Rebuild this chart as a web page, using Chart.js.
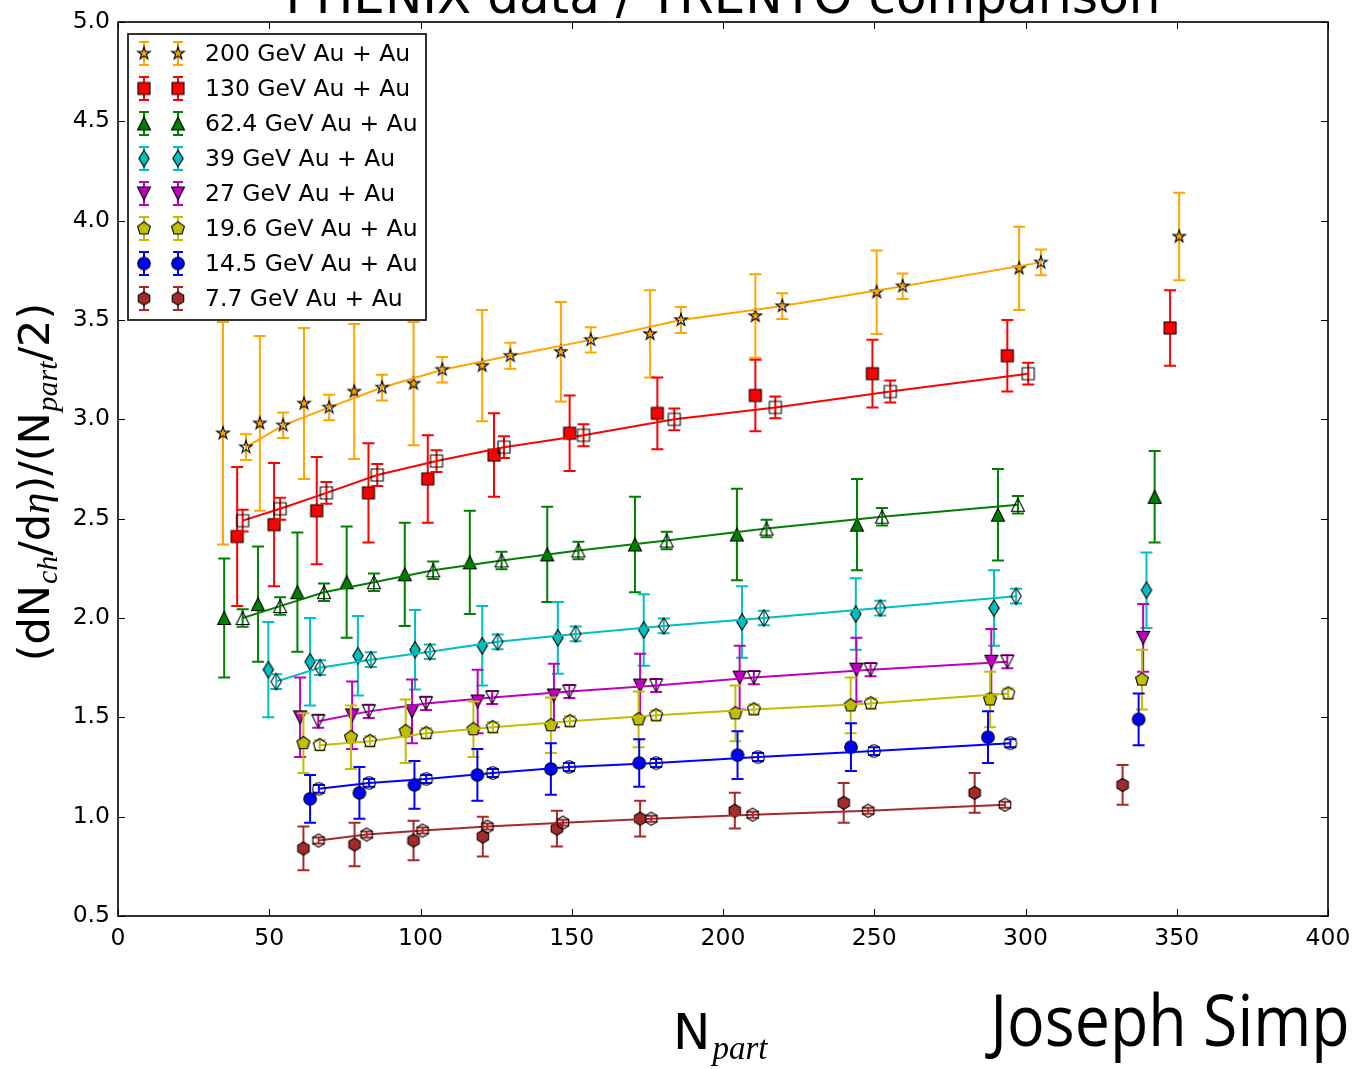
<!DOCTYPE html>
<html>
<head>
<meta charset="utf-8">
<script src="https://cdn.jsdelivr.net/npm/chart.js@4.4.0/dist/chart.umd.min.js"></script>
<style>
  html, body { margin: 0; padding: 0; background: #fff; }
  #wrap { width: 1355px; height: 1069px; position: relative; }
</style>
</head>
<body>
<div id="wrap"><canvas id="c" width="1355" height="1069"></canvas></div>
<script>
// ---- collision energies (legend order) ----
const energies = ['200 GeV Au + Au', '130 GeV Au + Au', '62.4 GeV Au + Au', '39 GeV Au + Au',
                  '27 GeV Au + Au', '19.6 GeV Au + Au', '14.5 GeV Au + Au', '7.7 GeV Au + Au'];

// ---- axis ticks ----
const xTicks = [0, 50, 100, 150, 200, 250, 300, 350, 400];
const yTicks = [0.5, 1.0, 1.5, 2.0, 2.5, 3.0, 3.5, 4.0, 4.5, 5.0];

// ---- PHENIX measurements: Npart, (dNch/deta)/(Npart/2), uncertainty ----
const phenix200_x = [34.7, 46.9, 61.5, 78.1, 97.7, 120.4, 146.4, 175.9, 210.7, 250.8, 297.9, 350.8];
const phenix200_y = [2.93, 2.98, 3.08, 3.14, 3.18, 3.27, 3.34, 3.43, 3.52, 3.64, 3.76, 3.92];
const phenix200_e = [0.56, 0.44, 0.38, 0.34, 0.31, 0.28, 0.25, 0.22, 0.21, 0.21, 0.21, 0.22];

const phenix130_x = [39.4, 51.6, 65.7, 82.8, 102.4, 124.3, 149.3, 178.3, 210.7, 249.4, 294.0, 347.8];
const phenix130_y = [2.41, 2.47, 2.54, 2.63, 2.70, 2.82, 2.93, 3.03, 3.12, 3.23, 3.32, 3.46];
const phenix130_e = [0.35, 0.31, 0.27, 0.25, 0.22, 0.21, 0.19, 0.18, 0.18, 0.17, 0.18, 0.19];

const phenix62_x = [35.1, 46.3, 59.3, 75.6, 94.8, 116.3, 141.9, 170.9, 204.6, 244.3, 290.9, 342.7];
const phenix62_y = [2.00, 2.07, 2.13, 2.18, 2.22, 2.28, 2.32, 2.37, 2.42, 2.47, 2.52, 2.61];
const phenix62_e = [0.30, 0.29, 0.30, 0.28, 0.26, 0.26, 0.24, 0.24, 0.23, 0.23, 0.23, 0.23];

const phenix39_x = [49.7, 63.5, 79.3, 98.2, 120.4, 145.4, 173.8, 206.3, 243.9, 289.6, 340.0];
const phenix39_y = [1.74, 1.78, 1.81, 1.84, 1.86, 1.90, 1.94, 1.98, 2.02, 2.05, 2.14];
const phenix39_e = [0.24, 0.22, 0.20, 0.20, 0.20, 0.18, 0.18, 0.18, 0.18, 0.19, 0.19];

const phenix27_x = [60.2, 77.4, 97.2, 118.9, 144.1, 172.6, 205.5, 244.1, 288.7, 338.9];
const phenix27_y = [1.50, 1.51, 1.53, 1.58, 1.61, 1.66, 1.70, 1.74, 1.78, 1.90];
const phenix27_e = [0.20, 0.17, 0.16, 0.16, 0.16, 0.16, 0.16, 0.16, 0.165, 0.17];

const phenix19_x = [61.3, 77.0, 95.1, 117.5, 143.1, 172.1, 204.1, 242.2, 288.3, 338.5];
const phenix19_y = [1.37, 1.40, 1.43, 1.44, 1.46, 1.49, 1.52, 1.56, 1.59, 1.69];
const phenix19_e = [0.15, 0.16, 0.16, 0.14, 0.14, 0.14, 0.14, 0.14, 0.14, 0.15];

const phenix14_x = [63.5, 79.8, 98.0, 118.8, 143.1, 172.3, 204.8, 242.3, 287.6, 337.4];
const phenix14_y = [1.09, 1.12, 1.16, 1.21, 1.24, 1.27, 1.31, 1.35, 1.40, 1.49];
const phenix14_e = [0.12, 0.13, 0.12, 0.13, 0.13, 0.12, 0.12, 0.12, 0.13, 0.13];

const phenix7_x = [61.3, 78.2, 97.7, 120.6, 145.1, 172.6, 203.9, 239.9, 283.2, 332.1];
const phenix7_y = [0.84, 0.86, 0.88, 0.90, 0.94, 0.99, 1.03, 1.07, 1.12, 1.16];
const phenix7_e = [0.11, 0.11, 0.10, 0.10, 0.09, 0.09, 0.09, 0.10, 0.10, 0.10];

// ---- TRENTO model curves ----
const trento200_x = [42.3, 54.6, 69.8, 87.3, 107.2, 129.7, 156.3, 186.1, 219.6, 259.4, 305.1];
const trento200_y = [2.86, 2.97, 3.06, 3.16, 3.25, 3.32, 3.40, 3.50, 3.57, 3.67, 3.79];
const trento200_e = [0.065, 0.064, 0.064, 0.065, 0.064, 0.065, 0.064, 0.065, 0.065, 0.064, 0.065];

const trento130_x = [41.2, 53.6, 68.9, 85.7, 105.3, 127.6, 153.9, 183.9, 217.3, 255.3, 300.9];
const trento130_y = [2.49, 2.55, 2.63, 2.72, 2.79, 2.86, 2.92, 3.00, 3.06, 3.14, 3.23];
const trento130_e = [0.055, 0.055, 0.055, 0.055, 0.055, 0.055, 0.055, 0.055, 0.055, 0.055, 0.055];

const trento62_x = [41.2, 53.6, 68.1, 84.6, 104.2, 126.8, 152.2, 181.4, 214.4, 252.6, 297.5];
const trento62_y = [2.00, 2.06, 2.13, 2.18, 2.24, 2.29, 2.34, 2.39, 2.45, 2.51, 2.57];
const trento62_e = [0.044, 0.044, 0.044, 0.044, 0.044, 0.044, 0.044, 0.044, 0.044, 0.044, 0.044];

const trento39_x = [52.3, 66.8, 83.6, 103.1, 125.5, 151.3, 180.4, 213.5, 252.0, 296.9];
const trento39_y = [1.68, 1.75, 1.79, 1.83, 1.88, 1.92, 1.96, 2.00, 2.05, 2.11];
const trento39_e = [0.037, 0.037, 0.037, 0.037, 0.037, 0.037, 0.037, 0.037, 0.037, 0.037];

const trento27_x = [66.2, 82.9, 101.8, 123.7, 149.2, 177.9, 210.2, 248.8, 294.0];
const trento27_y = [1.48, 1.53, 1.57, 1.60, 1.63, 1.66, 1.70, 1.74, 1.78];
const trento27_e = [0.033, 0.033, 0.033, 0.033, 0.033, 0.033, 0.033, 0.033, 0.033];

const trento19_x = [66.7, 83.3, 101.9, 123.9, 149.4, 177.9, 210.2, 248.9, 294.3];
const trento19_y = [1.36, 1.38, 1.42, 1.45, 1.48, 1.51, 1.54, 1.57, 1.62];
const trento19_e = [0.025, 0.025, 0.025, 0.025, 0.025, 0.025, 0.025, 0.025, 0.025];

const trento14_x = [66.4, 83.0, 101.9, 123.9, 149.1, 177.9, 211.6, 249.9, 295.0];
const trento14_y = [1.14, 1.17, 1.19, 1.22, 1.25, 1.27, 1.30, 1.33, 1.37];
const trento14_e = [0.02, 0.02, 0.02, 0.02, 0.02, 0.02, 0.02, 0.02, 0.02];

const trento7_x = [66.3, 82.2, 100.7, 122.1, 147.1, 176.3, 209.8, 248.0, 293.2];
const trento7_y = [0.88, 0.91, 0.93, 0.95, 0.97, 0.99, 1.01, 1.03, 1.06];
const trento7_e = [0.015, 0.015, 0.015, 0.015, 0.015, 0.015, 0.015, 0.015, 0.015];

// ---- per-energy styling ----
const colors  = ['#FFA500', '#FF0000', '#008000', '#00BFBF', '#BF00BF', '#BFBF00', '#0000FF', '#A52A2A'];
const shapes  = ['star', 'square', 'triUp', 'thinDiamond', 'triDown', 'pentagon', 'circle', 'hexagon'];

const measured = [
  [phenix200_x, phenix200_y, phenix200_e], [phenix130_x, phenix130_y, phenix130_e],
  [phenix62_x, phenix62_y, phenix62_e],    [phenix39_x, phenix39_y, phenix39_e],
  [phenix27_x, phenix27_y, phenix27_e],    [phenix19_x, phenix19_y, phenix19_e],
  [phenix14_x, phenix14_y, phenix14_e],    [phenix7_x, phenix7_y, phenix7_e]
];
const model = [
  [trento200_x, trento200_y, trento200_e], [trento130_x, trento130_y, trento130_e],
  [trento62_x, trento62_y, trento62_e],    [trento39_x, trento39_y, trento39_e],
  [trento27_x, trento27_y, trento27_e],    [trento19_x, trento19_y, trento19_e],
  [trento14_x, trento14_y, trento14_e],    [trento7_x, trento7_y, trento7_e]
];

// ---- marker glyphs ----
function shapePath(g, shape) {
  const poly = (n, r, rot) => {
    for (let k = 0; k < n; k++) {
      const a = rot + k * 2 * Math.PI / n;
      const px = r * Math.cos(a), py = r * Math.sin(a);
      k ? g.lineTo(px, py) : g.moveTo(px, py);
    }
    g.closePath();
  };
  switch (shape) {
    case 'star': {
      const R = 6.6, r = R * 0.382;
      for (let k = 0; k < 10; k++) {
        const a = -Math.PI / 2 + k * Math.PI / 5, rad = k % 2 ? r : R;
        const px = rad * Math.cos(a), py = rad * Math.sin(a);
        k ? g.lineTo(px, py) : g.moveTo(px, py);
      }
      g.closePath(); break;
    }
    case 'square': g.rect(-6, -6, 12, 12); break;
    case 'triUp': g.moveTo(0, -6.5); g.lineTo(6.5, 6.5); g.lineTo(-6.5, 6.5); g.closePath(); break;
    case 'triDown': g.moveTo(0, 6.5); g.lineTo(6.5, -6.5); g.lineTo(-6.5, -6.5); g.closePath(); break;
    case 'thinDiamond': g.moveTo(0, -8.3); g.lineTo(5.2, 0); g.lineTo(0, 8.3); g.lineTo(-5.2, 0); g.closePath(); break;
    case 'circle': g.arc(0, 0, 6.3, 0, 2 * Math.PI); break;
    case 'pentagon': poly(5, 6.8, -Math.PI / 2); break;
    case 'hexagon': poly(6, 6.6, -Math.PI / 2); break;
  }
}
function markerCanvas(shape, fill) {
  const S = 26, c = document.createElement('canvas');
  c.width = S; c.height = S;
  const g = c.getContext('2d');
  g.translate(S / 2, S / 2);
  g.beginPath(); shapePath(g, shape);
  if (fill) { g.fillStyle = fill; g.fill(); }
  g.lineWidth = 1.1; g.strokeStyle = '#000'; g.lineJoin = 'miter';
  g.stroke();
  return c;
}
const filledMarkers = shapes.map((s, i) => markerCanvas(s, colors[i]));
const openMarkers   = shapes.map(s => markerCanvas(s, null));

const toPoints = (xs, ys) => xs.map((x, i) => ({ x: x, y: ys[i] }));

// ---- datasets: measurement + model per energy, later energies drawn on top ----
const datasets = [];
energies.forEach((name, i) => {
  const [mx, my, me] = measured[i];
  const [tx, ty, te] = model[i];
  datasets.push({
    label: name, data: toPoints(mx, my), errors: me,
    showLine: false, pointStyle: filledMarkers[i], pointRadius: 7,
    borderColor: colors[i], backgroundColor: colors[i],
    errColor: colors[i], order: 100 - 2 * i
  });
  datasets.push({
    label: name + ' TRENTO', data: toPoints(tx, ty), errors: te,
    showLine: true, borderColor: colors[i], borderWidth: 2, backgroundColor: colors[i],
    pointStyle: openMarkers[i], pointRadius: 7, tension: 0,
    errColor: colors[i], order: 99 - 2 * i
  });
});

// ---- error bars drawn just beneath each dataset's markers ----
const errorBars = {
  id: 'errorBars',
  beforeDatasetDraw(chart, args) {
    const ds = chart.data.datasets[args.index];
    if (!ds.errors) return;
    const xs = chart.scales.x, ys = chart.scales.y, ctx = chart.ctx, a = chart.chartArea;
    ctx.save();
    ctx.beginPath(); ctx.rect(a.left, a.top, a.right - a.left, a.bottom - a.top); ctx.clip();
    ctx.strokeStyle = ds.errColor; ctx.lineWidth = 2; ctx.lineCap = 'butt';
    ds.data.forEach((p, k) => {
      const e = ds.errors[k];
      const px = xs.getPixelForValue(p.x);
      const top = ys.getPixelForValue(p.y + e), bot = ys.getPixelForValue(p.y - e);
      ctx.beginPath();
      ctx.moveTo(px, top); ctx.lineTo(px, bot);
      ctx.moveTo(px - 6, top); ctx.lineTo(px + 6, top);
      ctx.moveTo(px - 6, bot); ctx.lineTo(px + 6, bot);
      ctx.stroke();
    });
    ctx.restore();
  }
};

// ---- axes frame with inward ticks on all four sides ----
const frame = {
  id: 'frame',
  afterDatasetsDraw(chart) {
    const ctx = chart.ctx, a = chart.chartArea, xs = chart.scales.x, ys = chart.scales.y;
    ctx.save();
    ctx.strokeStyle = '#000'; ctx.lineWidth = 1;
    ctx.beginPath();
    xTicks.forEach(v => {
      const px = Math.round(xs.getPixelForValue(v)) + 0.5;
      ctx.moveTo(px, a.bottom); ctx.lineTo(px, a.bottom - 7);
      ctx.moveTo(px, a.top); ctx.lineTo(px, a.top + 7);
    });
    yTicks.forEach(v => {
      const py = Math.round(ys.getPixelForValue(v)) + 0.5;
      ctx.moveTo(a.left, py); ctx.lineTo(a.left + 7, py);
      ctx.moveTo(a.right, py); ctx.lineTo(a.right - 7, py);
    });
    ctx.stroke();
    ctx.lineWidth = 1.6;
    ctx.strokeRect(a.left, a.top, a.right - a.left, a.bottom - a.top);
    ctx.restore();
  }
};

// ---- legend box: two markers with error bars per entry ----
const legendBox = {
  id: 'legendBox',
  afterDraw(chart) {
    const ctx = chart.ctx;
    ctx.save();
    ctx.fillStyle = '#fff';
    ctx.fillRect(128, 34, 298, 286);
    ctx.strokeStyle = '#000'; ctx.lineWidth = 1.6;
    ctx.strokeRect(128, 34, 298, 286);
    energies.forEach((name, i) => {
      const cy = 53.5 + i * 35;
      [144, 178].forEach(cx => {
        ctx.strokeStyle = colors[i]; ctx.lineWidth = 2;
        ctx.beginPath();
        ctx.moveTo(cx, cy - 11.5); ctx.lineTo(cx, cy + 11.5);
        ctx.moveTo(cx - 5, cy - 11.5); ctx.lineTo(cx + 5, cy - 11.5);
        ctx.moveTo(cx - 5, cy + 11.5); ctx.lineTo(cx + 5, cy + 11.5);
        ctx.stroke();
        const m = filledMarkers[i];
        ctx.drawImage(m, cx - m.width / 2, cy - m.height / 2);
      });
      ctx.fillStyle = '#000';
      ctx.font = '23.5px "DejaVu Sans"';
      ctx.textBaseline = 'middle'; ctx.textAlign = 'left';
      ctx.fillText(name, 205, cy + 1);
    });
    ctx.restore();
  }
};

// ---- text runs with subscript pieces ----
function runWidth(ctx, parts) {
  return parts.reduce((w, p) => { ctx.font = p.font; return w + ctx.measureText(p.t).width + (p.gap || 0); }, 0);
}
function drawRun(ctx, parts, x, y) {
  let cx = x;
  parts.forEach(p => {
    ctx.font = p.font;
    ctx.fillText(p.t, cx, y + (p.dy || 0));
    cx += ctx.measureText(p.t).width + (p.gap || 0);
  });
}

const titleText = 'PHENIX data / TRENTO comparison';
const authorText = 'Joseph Simp';

const labels = {
  id: 'labels',
  afterDraw(chart) {
    const ctx = chart.ctx, a = chart.chartArea;
    ctx.save();
    ctx.fillStyle = '#000';
    ctx.textBaseline = 'alphabetic'; ctx.textAlign = 'left';

    // title, clipped by the top of the canvas
    ctx.font = '50px "DejaVu Sans"';
    const tw = ctx.measureText(titleText).width;
    ctx.fillText(titleText, (a.left + a.right) / 2 - tw / 2, 13);

    // x-axis label: N_part
    const main = '50px "DejaVu Sans"';
    const sub = 'italic 33px "Liberation Serif"';
    const xParts = [{ t: 'N', font: main, gap: 2 }, { t: 'part', font: sub, dy: 10 }];
    drawRun(ctx, xParts, 673, 1049);

    // y-axis label: (dN_ch/deta)/(N_part/2), rotated
    const ym = '43px "DejaVu Sans"';
    const ys = 'italic 30px "Liberation Serif"';
    const yi = 'italic 43px "Liberation Serif"';
    const yParts = [
      { t: '(dN', font: ym, gap: 1 }, { t: 'ch', font: ys, dy: 8 },
      { t: '/d', font: ym }, { t: 'η', font: yi }, { t: ')/(N', font: ym, gap: 1 },
      { t: 'part', font: ys, dy: 8 }, { t: '/2)', font: ym }
    ];
    const yw = runWidth(ctx, yParts);
    ctx.save();
    ctx.translate(49, 482);
    ctx.rotate(-Math.PI / 2);
    drawRun(ctx, yParts, -yw / 2, 0);
    ctx.restore();

    // author credit, running off the right edge; ink width fitted horizontally
    ctx.font = '72px "Open Sans"';
    const m = ctx.measureText(authorText);
    const ink = m.actualBoundingBoxLeft + m.actualBoundingBoxRight;
    const sx = 362 / ink;
    ctx.save();
    ctx.translate(985, 1046);
    ctx.scale(sx, 1);
    ctx.fillText(authorText, m.actualBoundingBoxLeft, 0);
    ctx.restore();
    ctx.restore();
  }
};

const tickFont = { family: 'DejaVu Sans', size: 23.5 };

new Chart(document.getElementById('c'), {
  type: 'scatter',
  data: { datasets: datasets },
  options: {
    responsive: false,
    animation: false,
    events: [],
    layout: { padding: { left: 0, right: 27, top: 22, bottom: 0 } },
    plugins: { legend: { display: false }, tooltip: { enabled: false }, title: { display: false } },
    scales: {
      x: {
        type: 'linear', min: 0, max: 400,
        afterBuildTicks(s) { s.ticks = xTicks.map(v => ({ value: v })); },
        ticks: { font: tickFont, color: '#000', padding: 9, maxRotation: 0, autoSkip: false,
                 callback: v => String(v) },
        grid: { display: false, drawTicks: false },
        border: { display: false },
        afterFit(s) { s.height = 153; s.paddingLeft = 0; s.paddingRight = 0; }
      },
      y: {
        type: 'linear', min: 0.5, max: 5.0,
        afterBuildTicks(s) { s.ticks = yTicks.map(v => ({ value: v })); },
        ticks: { font: tickFont, color: '#000', padding: 8, autoSkip: false,
                 callback: v => Number(v).toFixed(1) },
        grid: { display: false, drawTicks: false },
        border: { display: false },
        afterFit(s) { s.width = 118; s.paddingTop = 0; s.paddingBottom = 0; }
      }
    }
  },
  plugins: [errorBars, frame, legendBox, labels]
});
</script>
</body>
</html>
